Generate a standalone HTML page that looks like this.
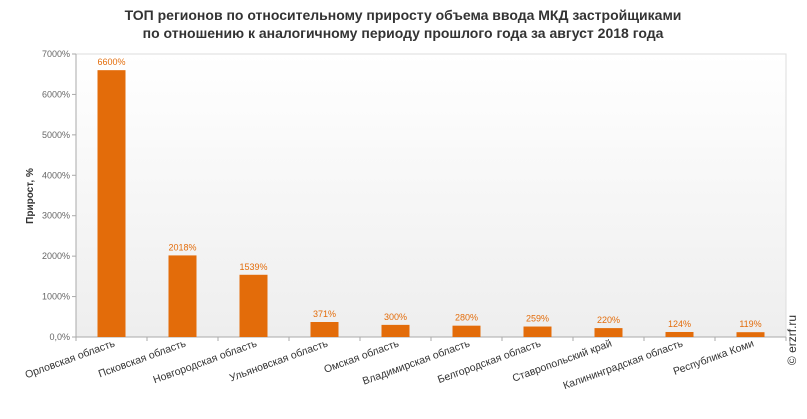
<!DOCTYPE html>
<html><head><meta charset="utf-8"><style>
body{margin:0;background:#fff;font-family:"Liberation Sans",sans-serif}
</style></head><body>
<svg width="807" height="414" xmlns="http://www.w3.org/2000/svg">
<defs><linearGradient id="bg" x1="0" y1="0" x2="0" y2="1"><stop offset="0" stop-color="#ffffff"/><stop offset="1" stop-color="#eeeeee"/></linearGradient></defs>
<text x="403" y="20" text-anchor="middle" font-size="14" font-weight="bold" fill="#333">ТОП регионов по относительному приросту объема ввода МКД застройщиками</text>
<text x="403" y="38" text-anchor="middle" font-size="14" font-weight="bold" fill="#333">по отношению к аналогичному периоду прошлого года за август 2018 года</text>
<rect x="76" y="54" width="710" height="283" fill="url(#bg)" stroke="#ddd"/>
<g id="axes"></g><g id="bars"></g>
<text transform="translate(33,196) rotate(-90)" text-anchor="middle" font-size="10" font-weight="bold" fill="#333">Прирост, %</text>
<text transform="translate(796,340) rotate(-90)" text-anchor="middle" font-size="12" fill="#333">© erzrf.ru</text>
</svg>
<script>
const categories=["Орловская область","Псковская область","Новгородская область","Ульяновская область","Омская область","Владимирская область","Белгородская область","Ставропольский край","Калининградская область","Республика Коми"];
const values=[6600,2018,1539,371,300,280,259,220,124,119];
const valueLabels=["6600%","2018%","1539%","371%","300%","280%","259%","220%","124%","119%"];
const ticks=[0,1000,2000,3000,4000,5000,6000,7000];
const tickLabels=["0,0%","1000%","2000%","3000%","4000%","5000%","6000%","7000%"];
const NS="http://www.w3.org/2000/svg";
const L=76,R=786,T=54,B=337,ymax=7000;
const y=v=>B-(v/ymax)*(B-T);
const bw=(R-L)/categories.length;
const x=i=>L+bw*(i+0.5);
function mk(t,a,p){const e=document.createElementNS(NS,t);for(const k in a)e.setAttribute(k,a[k]);p.appendChild(e);return e;}
const ax=document.getElementById('axes'),bs=document.getElementById('bars');
ticks.forEach((t,i)=>{
 const l=mk('line',{x1:L-4,x2:L,y1:y(t),y2:y(t),stroke:'#aaa'},ax);
 
 
 const tx=mk('text',{x:L-6,y:y(t)+3,'text-anchor':'end','font-size':9,fill:'#666'},ax);tx.textContent=tickLabels[i];
 
 
});
const yl=mk('line',{x1:L,x2:L,y1:T,y2:B,stroke:'#aaa'},ax);


const xl=mk('line',{x1:L,x2:R,y1:B,y2:B,stroke:'#aaa'},ax);


for(let i=0;i<=categories.length;i++){const tk=mk('line',{x1:L+bw*i,x2:L+bw*i,y1:B,y2:B+4,stroke:'#aaa'},ax);
 
 }
const cs=Math.cos(20*Math.PI/180);
categories.forEach((c,i)=>{
 const r=mk('rect',{x:x(i)-14,y:y(values[i]),width:28,height:B-y(values[i]),fill:'#e36c0a'},bs);
 
 
 const v=mk('text',{x:x(i),y:y(values[i])-5,'text-anchor':'middle','font-size':9,fill:'#e36c0a'},bs);v.textContent=valueLabels[i];
 
 
 const t=mk('text',{'text-anchor':'end','font-size':10.5,fill:'#333'},bs);t.textContent=c;
 
 
 let ex=x(i)+4;
 const w=t.getComputedTextLength()*cs;
 if(ex-w<22) ex=22+w;
 t.setAttribute('transform',`translate(${ex},346) rotate(-20)`);
});
</script>
</body></html>
